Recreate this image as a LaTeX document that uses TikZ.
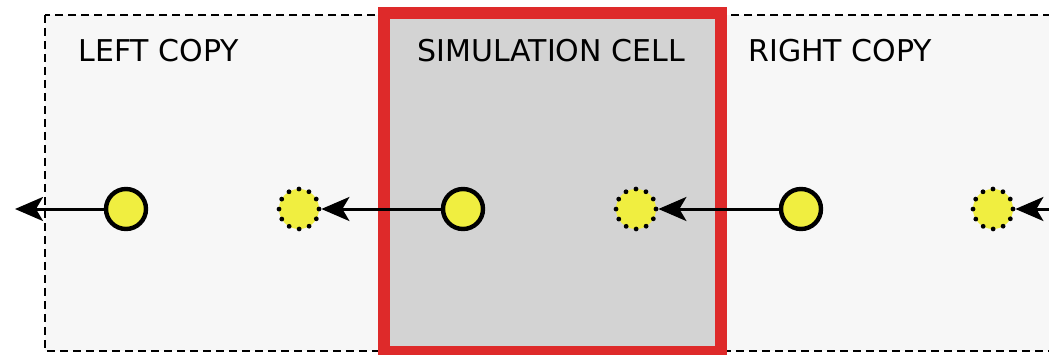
\documentclass[tikz,border=0pt]{standalone}
\usepackage{fontspec}
\setmainfont{DejaVu Sans}
\usetikzlibrary{arrows.meta}
\definecolor{outerfill}{RGB}{247,247,247}
\definecolor{cellfill}{RGB}{211,211,211}
\definecolor{cellred}{RGB}{222,42,42}
\definecolor{atomyellow}{RGB}{240,238,64}
\tikzset{
  solidatom/.style={circle,draw=black,line width=2.2pt,fill=atomyellow,minimum size=20pt,inner sep=0pt},
  ghostatom/.style={circle,draw=black,line width=2.4pt,fill=atomyellow,minimum size=20pt,inner sep=0pt,dash pattern=on 0pt off 5.236pt,line cap=round},
  shiftarrow/.style={line width=1.5pt,-{Stealth[length=14pt,width=12pt,inset=3.5pt]}},
  boxlabel/.style={anchor=base west,inner sep=0pt,font=\fontsize{15pt}{18pt}\selectfont}
}
\begin{document}
\begin{tikzpicture}[x=0.5pt,y=-0.5pt]
\useasboundingbox (0,0) rectangle (1049,354);
\clip (0,0) rectangle (1049,354);
\draw[fill=outerfill,line width=1.2pt,dash pattern=on 4pt off 2.5pt] (45,15) rectangle (1070,351);
\draw[fill=cellfill,draw=cellred,line width=6pt] (384,13) rectangle (721,352);
\node[boxlabel] (lt) at (78,61) {LEFT COPY};
\node[boxlabel] (st) at (417,61) {SIMULATION CELL};
\node[boxlabel] (rt) at (748,61) {RIGHT COPY};
\node[solidatom] (s1) at (126,209) {};
\node[ghostatom] (g1) at (299,209) {};
\node[solidatom] (s2) at (463,209) {};
\node[ghostatom] (g2) at (636,209) {};
\node[solidatom] (s3) at (801,209) {};
\node[ghostatom] (g3) at (993,209) {};
\coordinate (lend) at (15,209);
\coordinate (rstart) at (1070,209);
\draw[shiftarrow] (s1) -- (lend);
\draw[shiftarrow] (s2) -- (g1);
\draw[shiftarrow] (s3) -- (g2);
\draw[shiftarrow] (rstart) -- (g3);
\end{tikzpicture}
\end{document}
